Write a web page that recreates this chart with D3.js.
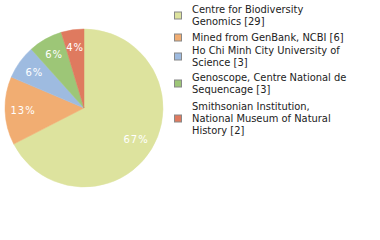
<!DOCTYPE html>
<head>
<title>Pie chart</title>
<script src="https://d3js.org/d3.v7.min.js"></script>
<style>
body { margin: 0; background: #fff; }
</style>
</head>
<body>
<div id="my_dataviz"></div>
<script>

// data
const labels = ["Centre for Biodiversity Genomics", "Mined from GenBank, NCBI",
  "Ho Chi Minh City University of Science", "Genoscope, Centre National de Sequencage",
  "Smithsonian Institution, National Museum of Natural History"];
const counts = [29, 6, 3, 3, 2];
const legendLines = [
  ["Centre for Biodiversity", "Genomics [29]"],
  ["Mined from GenBank, NCBI [6]"],
  ["Ho Chi Minh City University of", "Science [3]"],
  ["Genoscope, Centre National de", "Sequencage [3]"],
  ["Smithsonian Institution,", "National Museum of Natural", "History [2]"]
];
const colours = ['#dde39e', '#f1ad72', '#9ebbe0', '#9dc677', '#df7a5f'];

var width = 380, height = 240;
var cx = 84, cy = 108, radius = 79;

var svg = d3.select("#my_dataviz")
  .append("svg")
    .attr("width", width)
    .attr("height", height);

var data = labels.map(function(d, i) { return {name: d, value: counts[i], i: i}; });
var total = d3.sum(counts);

var pie = d3.pie()
  .sort(null)
  .value(function(d) { return d.value; });

var arc = d3.arc().innerRadius(0).outerRadius(radius);
var labelArc = d3.arc().innerRadius(61).outerRadius(61);

var g = svg.append("g")
  .attr("transform", "translate(" + cx + "," + cy + ")");

var arcs = pie(data);

g.selectAll("path")
  .data(arcs)
  .enter()
  .append("path")
    .attr("d", arc)
    .attr("fill", function(d) { return colours[d.data.i]; })
    .attr("stroke", function(d) { return colours[d.data.i]; })
    .attr("stroke-width", 0.5);

// percentages are truncated, not rounded
g.selectAll("text.pct")
  .data(arcs)
  .enter()
  .append("text")
    .attr("class", "pct")
    .attr("transform", function(d) { return "translate(" + labelArc.centroid(d) + ")"; })
    .attr("dy", "0.35em")
    .attr("text-anchor", "middle")
    .style("font-family", "DejaVu Sans")
    .style("font-size", "10px")
    .style("fill", "#fff")
    .style("letter-spacing", "1px")
    .text(function(d) { return Math.floor(d.data.value / total * 100) + "%"; });

// legend
var baselines = [[13, 25], [41], [54, 66], [81, 93], [110, 122, 134]];
var legend = svg.append("g");

legendLines.forEach(function(lines, i) {
  var b = baselines[i];
  var mid = (b[0] + b[b.length - 1]) / 2 - 3.5;
  legend.append("rect")
    .attr("x", 174.5)
    .attr("y", mid - 3.5)
    .attr("width", 7)
    .attr("height", 7)
    .attr("fill", colours[i])
    .attr("stroke", "#888")
    .attr("stroke-width", 1);
  lines.forEach(function(t, j) {
    legend.append("text")
      .attr("x", 192)
      .attr("y", b[j])
      .style("font-family", "DejaVu Sans Condensed")
      .style("font-size", "11px")
      .style("fill", "#222")
      .text(t);
  });
});

</script>
</body>
</html>
